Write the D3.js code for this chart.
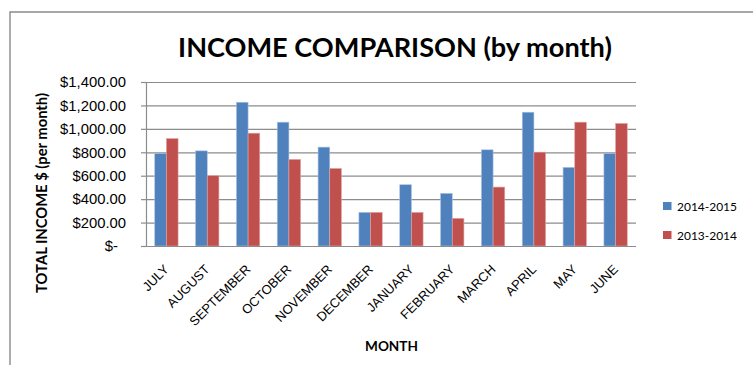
<!DOCTYPE html>
<html><head><meta charset="utf-8">
<script src="https://cdn.jsdelivr.net/npm/d3@7"></script>
<style>
body{margin:0;background:#fff;}
svg{display:block;font-family:Lato,"Open Sans",sans-serif;}
</style>
</head><body>
<svg id="chart" width="753" height="365"></svg>
<script>
// ---- data ----
const months = ["JULY","AUGUST","SEPTEMBER","OCTOBER","NOVEMBER","DECEMBER","JANUARY","FEBRUARY","MARCH","APRIL","MAY","JUNE"];
const seriesNames = ["2014-2015","2013-2014"];
const income2014_2015 = [790, 812, 1227, 1057, 844, 287, 523, 449, 821, 1142, 671, 790];
const income2013_2014 = [917, 600, 963, 739, 662, 287, 287, 236, 503, 801, 1057, 1046];
const yTicks = [0, 200, 400, 600, 800, 1000, 1200, 1400];
const seriesColors = ["#4F81BD", "#C0504D"];
const titleText = "INCOME COMPARISON (by month)";
const xTitleText = "MONTH";
const yTitleText = "TOTAL INCOME $ (per month)";

// ---- layout ----
const svg = d3.select("#chart");
const plot = {left:146, right:636, top:82, bottom:246};

function fitFont(sel, target, base){
  sel.style("font-size", base + "px");
  const len = sel.node().getComputedTextLength();
  const size = base * target / len;
  sel.style("font-size", size + "px");
  return size;
}

// outer border
svg.append("path").attr("d","M10,365 V12 H753").attr("fill","none").attr("stroke","#8a8a8a").attr("stroke-width",1.4);

const x = d3.scaleBand().domain(months).range([plot.left, plot.right]).padding(0);
const x1 = d3.scaleBand().domain(seriesNames).range([0, x.bandwidth()]).paddingInner(0).paddingOuter(0.75);
const y = d3.scaleLinear().domain([0, 1400]).range([plot.bottom, plot.top]);

// gridlines
const grid = svg.append("g").attr("transform",`translate(${plot.left},0)`)
  .call(d3.axisLeft(y).tickValues(yTicks.slice(1)).tickSize(-(plot.right-plot.left)).tickFormat(""));
grid.select(".domain").remove();
grid.selectAll("line").attr("stroke","#8c8c8c").attr("stroke-width",1.2);

// bars
const rows = months.map((m,i)=>({month:m, values:[income2014_2015[i], income2013_2014[i]]}));
const groups = svg.append("g").selectAll("g").data(rows).join("g")
  .attr("transform", d=>`translate(${x(d.month)},0)`);
groups.selectAll("rect").data(d=>d.values.map((v,k)=>({k, v})))
  .join("rect")
  .attr("x", d=>x1(seriesNames[d.k]))
  .attr("width", x1.bandwidth())
  .attr("y", d=>y(d.v))
  .attr("height", d=>y(0)-y(d.v))
  .attr("fill", d=>seriesColors[d.k])
  .attr("stroke", d=>d.k===0 ? "#a9c1e0" : "#e3a3a1")
  .attr("stroke-width", 0.6);

// y axis
const fmt = v => v===0 ? "$-" : "$" + d3.format(",.2f")(v);
const yAxis = svg.append("g").attr("transform",`translate(${plot.left},0)`)
  .call(d3.axisLeft(y).tickValues(yTicks).tickSize(5).tickPadding(15).tickFormat(fmt));
yAxis.select(".domain").attr("stroke","#8c8c8c").attr("stroke-width",1.2);
yAxis.selectAll("line").attr("stroke","#8c8c8c").attr("stroke-width",1.2);
yAxis.selectAll("text").attr("fill","#000").attr("font-family",null);
const yLab = yAxis.selectAll("text");
const tickSize = fitFont(yAxis.selectAll("text").filter(d=>d===1400), 66, 13);
yLab.style("font-size", tickSize+"px");
yLab.filter(d=>d===0).attr("dx", -8);

// x axis
const xAxis = svg.append("g").attr("transform",`translate(0,${plot.bottom})`)
  .call(d3.axisBottom(x).tickSize(0));
xAxis.select(".domain").attr("stroke","#8c8c8c").attr("stroke-width",1.2).attr("d",`M${plot.left-5},0.5H${plot.right}`);
const xLab = xAxis.selectAll("text").attr("fill","#000").attr("font-family",null)
  .attr("x",0).attr("y",0).attr("dy","0.35em").attr("text-anchor","end")
  .attr("transform","translate(0,21) rotate(-45)");
const xs = fitFont(xLab.filter(d=>d==="SEPTEMBER"), 80, 13);
xLab.style("font-size", xs+"px");

// title
const t = svg.append("text").attr("x",395).attr("y",56.5).attr("text-anchor","middle")
  .attr("font-weight","bold").attr("fill","#000").text(titleText);
fitFont(t, 434, 28);

// axis titles
const xt = svg.append("text").attr("x",(plot.left+plot.right)/2+0.5).attr("y",351).attr("text-anchor","middle")
  .attr("font-weight","bold").attr("fill","#000").text(xTitleText);
fitFont(xt, 53, 13);
const yt = svg.append("text").attr("transform","translate(46.5,193) rotate(-90)").attr("text-anchor","middle")
  .attr("font-weight","bold").attr("fill","#000").text(yTitleText);
fitFont(yt, 200, 13);

// legend
const legend = svg.append("g").selectAll("g").data(seriesNames).join("g")
  .attr("transform",(d,i)=>`translate(663,${202 + i*29})`);
legend.append("rect").attr("width",8.5).attr("height",8).attr("fill",(d,i)=>seriesColors[i]);
const lt = legend.append("text").attr("x",14).attr("y",8.5).attr("fill","#000").text(d=>d);
const ls = fitFont(lt.filter((d,i)=>i===0), 60, 13);
lt.style("font-size", ls+"px");
</script>
</body></html>
